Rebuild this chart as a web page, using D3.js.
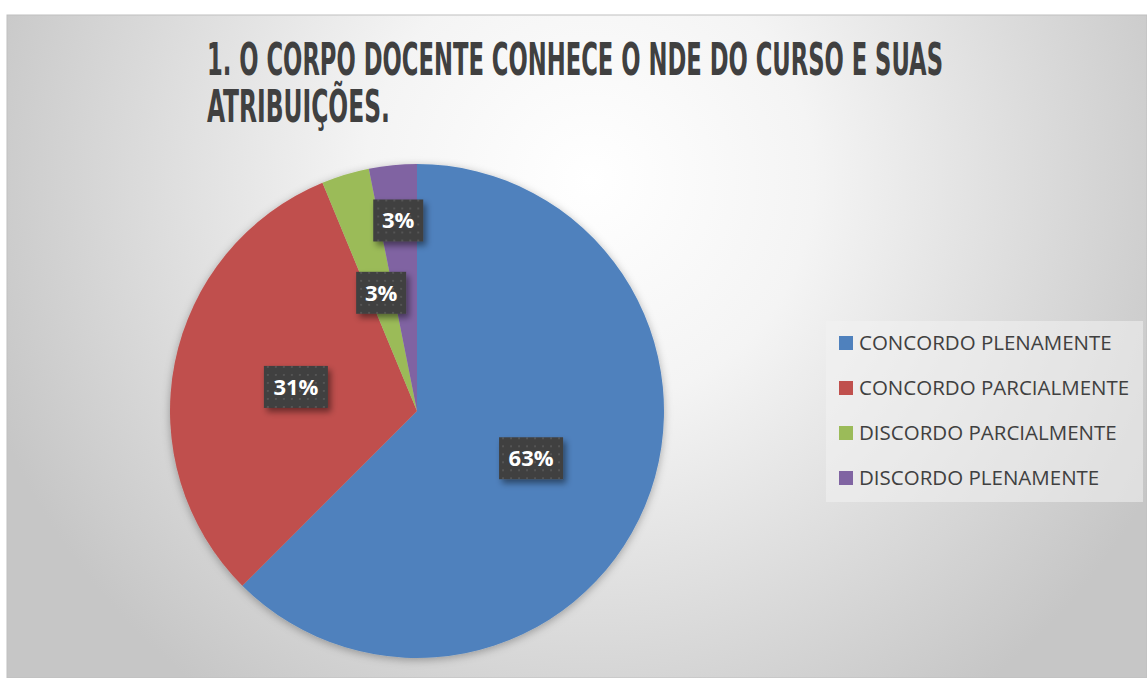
<!DOCTYPE html>
<html>
<head>
<meta charset="utf-8">
<script src="https://cdn.jsdelivr.net/npm/d3@7"></script>
<style>
  body { margin:0; background:#fff; }
  svg { display:block; }
</style>
</head>
<body>
<div id="plot"></div>
<script>
// data (20+10+1+1 = 32 answers)
var categories = ['CONCORDO PLENAMENTE','CONCORDO PARCIALMENTE','DISCORDO PARCIALMENTE','DISCORDO PLENAMENTE'];
var counts = [20, 10, 1, 1];
var pctLabels = ['63%','31%','3%','3%'];
var colors = ['#4f81bd','#c0504d','#9bbb59','#8064a2'];
var titleLines = ['1. O CORPO DOCENTE CONHECE O NDE DO CURSO E SUAS','ATRIBUIÇÕES.'];

var W = 1147, H = 678;
var svg = d3.select('#plot').append('svg').attr('width', W).attr('height', H);
var defs = svg.append('defs');

// chart area background
var grad = defs.append('radialGradient').attr('id','bg')
    .attr('gradientUnits','userSpaceOnUse')
    .attr('cx', 590).attr('cy', 180).attr('r', 640);
grad.append('stop').attr('offset','0%').attr('stop-color','#ffffff');
grad.append('stop').attr('offset','35%').attr('stop-color','#f4f4f4');
grad.append('stop').attr('offset','100%').attr('stop-color','#c6c6c6');

var pat = defs.append('pattern').attr('id','dots')
    .attr('patternUnits','userSpaceOnUse').attr('width',8).attr('height',8);
pat.append('rect').attr('width',8).attr('height',8).attr('fill','#3f3f3f');
pat.append('rect').attr('x',3).attr('y',3).attr('width',2).attr('height',2).attr('fill','#555555');

var sh = defs.append('filter').attr('id','lblShadow').attr('x','-30%').attr('y','-30%').attr('width','170%').attr('height','170%');
sh.append('feDropShadow').attr('dx',3).attr('dy',4).attr('stdDeviation',3).attr('flood-color','#000').attr('flood-opacity',0.45);

var psh = defs.append('filter').attr('id','pieShadow').attr('x','-10%').attr('y','-10%').attr('width','120%').attr('height','120%');
psh.append('feDropShadow').attr('dx',0).attr('dy',2).attr('stdDeviation',4).attr('flood-color','#000').attr('flood-opacity',0.3);

svg.append('rect').attr('x',7).attr('y',15).attr('width',W-7).attr('height',H-15)
    .attr('fill','url(#bg)').attr('stroke','#bfbfbf').attr('stroke-width',1);

// title - condensed font squeezed horizontally to the reference width
var titleWidths = [736, 183];
var title = svg.append('g').attr('fill','#404040')
    .style('font-family','"DejaVu Sans Condensed","DejaVu Sans",sans-serif')
    .style('font-weight','bold').style('font-size','44px');
titleLines.forEach(function(t,i){
    var y = 75 + i*47;
    var tx = title.append('text').attr('x',0).attr('y',0).text(t);
    var w = tx.node().getComputedTextLength();
    tx.attr('transform','translate(207,'+y+') scale('+(titleWidths[i]/w)+',1)');
});

// pie
var cx = 417, cy = 411, r = 247;
var pie = d3.pie().sort(null).value(function(d){ return d; });
var arcs = pie(counts);
var arc = d3.arc().innerRadius(0).outerRadius(r);

var g = svg.append('g').attr('transform','translate('+cx+','+cy+')');
g.append('g').attr('filter','url(#pieShadow)').selectAll('path')
    .data(arcs).enter().append('path')
    .attr('d', arc)
    .attr('fill', function(d,i){ return colors[i]; });

// data labels
var labelR = [0.5, 0.5, 0.5, 0.775];
arcs.forEach(function(d,i){
    var la = d3.arc().innerRadius(r*labelR[i]).outerRadius(r*labelR[i]);
    var c = la.centroid(d);
    var bw = pctLabels[i].length > 2 ? 64 : 50, bh = 42;
    var lg = g.append('g').attr('transform','translate('+c[0]+','+c[1]+')');
    lg.append('rect').attr('x',-bw/2).attr('y',-bh/2).attr('width',bw).attr('height',bh)
        .attr('fill','url(#dots)').attr('filter','url(#lblShadow)');
    lg.append('text').attr('text-anchor','middle').attr('dy','0.36em')
        .attr('fill','#ffffff').style('font-family','"Open Sans","Noto Sans",sans-serif')
        .style('font-weight','bold').style('font-size','22px')
        .text(pctLabels[i]);
});

// legend
var legend = svg.append('g').attr('transform','translate(826,321)');
legend.append('rect').attr('width',317).attr('height',181).attr('fill','#f2f2f2').attr('fill-opacity',0.55);
var item = legend.selectAll('g.item').data(categories).enter().append('g')
    .attr('class','item')
    .attr('transform', function(d,i){ return 'translate(13,'+(22+i*45)+')'; });
item.append('rect').attr('x',0).attr('y',-7).attr('width',14).attr('height',14)
    .attr('fill', function(d,i){ return colors[i]; });
item.append('text').attr('x',20).attr('dy','0.36em').attr('fill','#404040')
    .style('font-family','"Open Sans","Noto Sans",sans-serif').style('font-size','20.5px')
    .text(function(d){ return d; });
</script>
</body>
</html>
